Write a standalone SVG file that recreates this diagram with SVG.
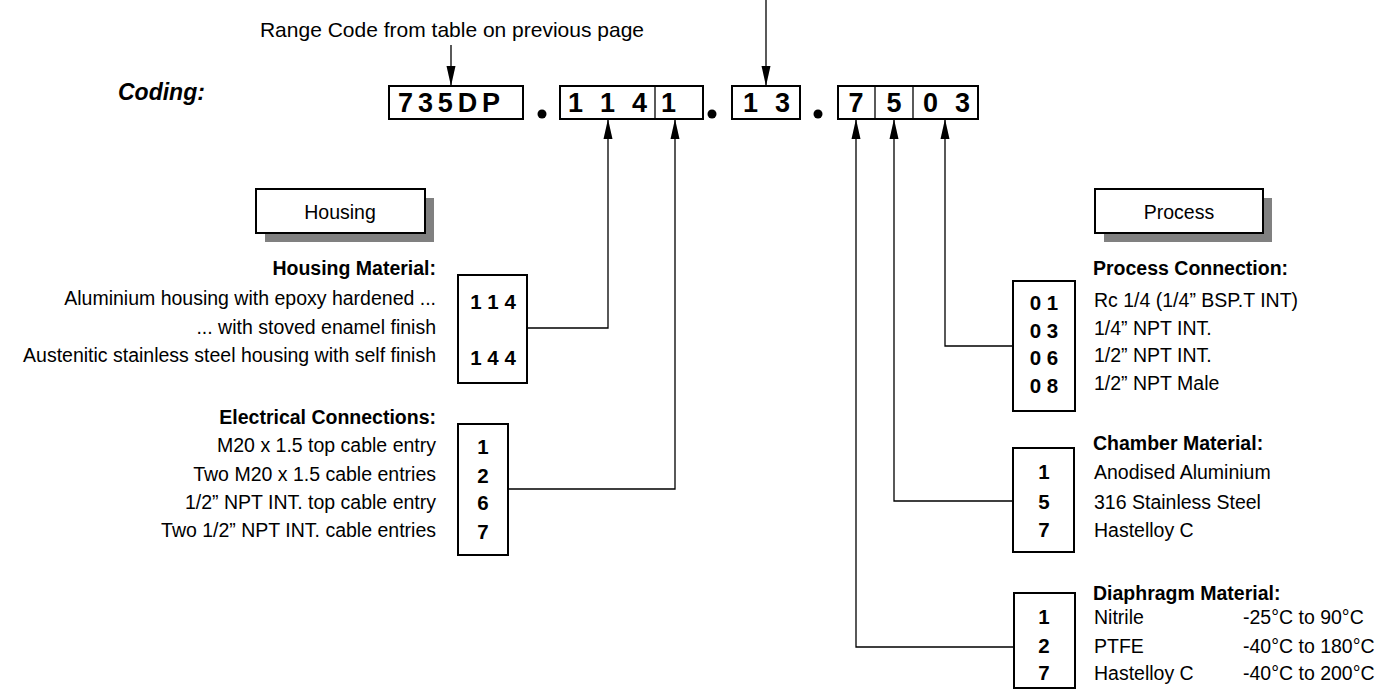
<svg xmlns="http://www.w3.org/2000/svg" width="1396" height="694" viewBox="0 0 1396 694">
<style>
text{font-family:"Liberation Sans",Arial,sans-serif;fill:#000}
.t{font-size:19.5px}
.h{font-size:19.5px;font-weight:bold}
.c{font-size:20.5px;font-weight:bold;text-anchor:middle}
.k{font-size:27px;font-weight:bold}
.box{fill:#fff;stroke:#000;stroke-width:2}
.sh{fill:#808080}
.ln{fill:none;stroke:#000;stroke-width:1.3}
.e{text-anchor:end}
.m{text-anchor:middle}
</style>
<defs>
<marker id="ah" markerUnits="userSpaceOnUse" markerWidth="20" markerHeight="10" refX="20" refY="5" orient="auto">
<path d="M0,0.5 L20,5 L0,9.5 z" fill="#000"/>
</marker>
</defs>
<rect width="1396" height="694" fill="#fff"/>

<g id="title">
<text x="118" y="100" style="font-size:23px;font-weight:bold;font-style:italic">Coding:</text>
<text x="452" y="37" style="font-size:21px;text-anchor:middle">Range Code from table on previous page</text>
</g>

<g id="code">
<rect class="box" x="389" y="86" width="134" height="33"/>
<text class="k" x="398" y="112" textLength="102" lengthAdjust="spacing">735DP</text>
<circle cx="542" cy="114" r="4.5"/>
<rect class="box" x="560" y="86" width="143" height="33"/>
<line x1="655" y1="86" x2="655" y2="119" stroke="#000" stroke-width="1.3"/>
<text class="k" x="568" y="112" textLength="79" lengthAdjust="spacing">1 1 4</text>
<text class="k" x="661" y="112">1</text>
<circle cx="712" cy="114" r="4.5"/>
<rect class="box" x="732" y="86" width="68" height="33"/>
<text class="k" x="743" y="112" textLength="47" lengthAdjust="spacing">1 3</text>
<circle cx="818" cy="114" r="4.5"/>
<rect class="box" x="838" y="86" width="140" height="33"/>
<line x1="875" y1="86" x2="875" y2="119" stroke="#000" stroke-width="1.3"/>
<line x1="913" y1="86" x2="913" y2="119" stroke="#000" stroke-width="1.3"/>
<text class="k m" x="856" y="112">7</text>
<text class="k m" x="894" y="112">5</text>
<text class="k" x="923" y="112" textLength="47" lengthAdjust="spacing">0 3</text>
</g>

<g id="housing-label">
<rect class="sh" x="265" y="198" width="169" height="44"/>
<rect class="box" x="256" y="189" width="169" height="44"/>
<text class="t m" x="340" y="219">Housing</text>
</g>

<g id="process-label">
<rect class="sh" x="1104" y="198" width="168" height="44"/>
<rect class="box" x="1095" y="189" width="168" height="44"/>
<text class="t m" x="1179" y="219">Process</text>
</g>

<g id="housing-material">
<text class="h e" x="436" y="275">Housing Material:</text>
<text class="t e" x="436" y="305">Aluminium housing with epoxy hardened ...</text>
<text class="t e" x="436" y="334">... with stoved enamel finish</text>
<text class="t e" x="436" y="362">Austenitic stainless steel housing with self finish</text>
<rect class="box" x="458" y="275" width="69" height="108"/>
<text class="c" x="493" y="309">1 1 4</text>
<text class="c" x="493" y="365">1 4 4</text>
</g>

<g id="electrical">
<text class="h e" x="436" y="424">Electrical Connections:</text>
<text class="t e" x="436" y="452">M20 x 1.5 top cable entry</text>
<text class="t e" x="436" y="481">Two M20 x 1.5 cable entries</text>
<text class="t e" x="436" y="509">1/2” NPT INT. top cable entry</text>
<text class="t e" x="436" y="537">Two 1/2” NPT INT. cable entries</text>
<rect class="box" x="458" y="424" width="50" height="131"/>
<text class="c" x="483" y="454">1</text>
<text class="c" x="483" y="483">2</text>
<text class="c" x="483" y="510">6</text>
<text class="c" x="483" y="539">7</text>
</g>

<g id="process-connection">
<text class="h" x="1093" y="275">Process Connection:</text>
<text class="t" x="1094" y="307">Rc 1/4 (1/4” BSP.T INT)</text>
<text class="t" x="1094" y="335">1/4” NPT INT.</text>
<text class="t" x="1094" y="362">1/2” NPT INT.</text>
<text class="t" x="1094" y="390">1/2” NPT Male</text>
<rect class="box" x="1013" y="281" width="62" height="130"/>
<text class="c" x="1044" y="310">0 1</text>
<text class="c" x="1044" y="338">0 3</text>
<text class="c" x="1044" y="365">0 6</text>
<text class="c" x="1044" y="393">0 8</text>
</g>

<g id="chamber">
<text class="h" x="1093" y="450">Chamber Material:</text>
<text class="t" x="1094" y="479">Anodised Aluminium</text>
<text class="t" x="1094" y="509">316 Stainless Steel</text>
<text class="t" x="1094" y="537">Hastelloy C</text>
<rect class="box" x="1013" y="448" width="61" height="104"/>
<text class="c" x="1044" y="479">1</text>
<text class="c" x="1044" y="509">5</text>
<text class="c" x="1044" y="537">7</text>
</g>

<g id="diaphragm">
<text class="h" x="1093" y="600">Diaphragm Material:</text>
<text class="t" x="1094" y="624">Nitrile</text>
<text class="t" x="1094" y="653">PTFE</text>
<text class="t" x="1094" y="680">Hastelloy C</text>
<text class="t" x="1243" y="624">-25°C to 90°C</text>
<text class="t" x="1243" y="653">-40°C to 180°C</text>
<text class="t" x="1243" y="680">-40°C to 200°C</text>
<rect class="box" x="1014" y="593" width="61" height="95"/>
<text class="c" x="1044" y="624">1</text>
<text class="c" x="1044" y="653">2</text>
<text class="c" x="1044" y="680">7</text>
</g>

<g id="connectors">
<path class="ln" d="M451,45 V86" marker-end="url(#ah)"/>
<path class="ln" d="M766,0 V86" marker-end="url(#ah)"/>
<path class="ln" d="M527,328 H608 V119" marker-end="url(#ah)"/>
<path class="ln" d="M508,489 H675 V119" marker-end="url(#ah)"/>
<path class="ln" d="M1013,346 H945 V119" marker-end="url(#ah)"/>
<path class="ln" d="M1013,501 H894 V119" marker-end="url(#ah)"/>
<path class="ln" d="M1014,647 H856 V119" marker-end="url(#ah)"/>
</g>
</svg>
